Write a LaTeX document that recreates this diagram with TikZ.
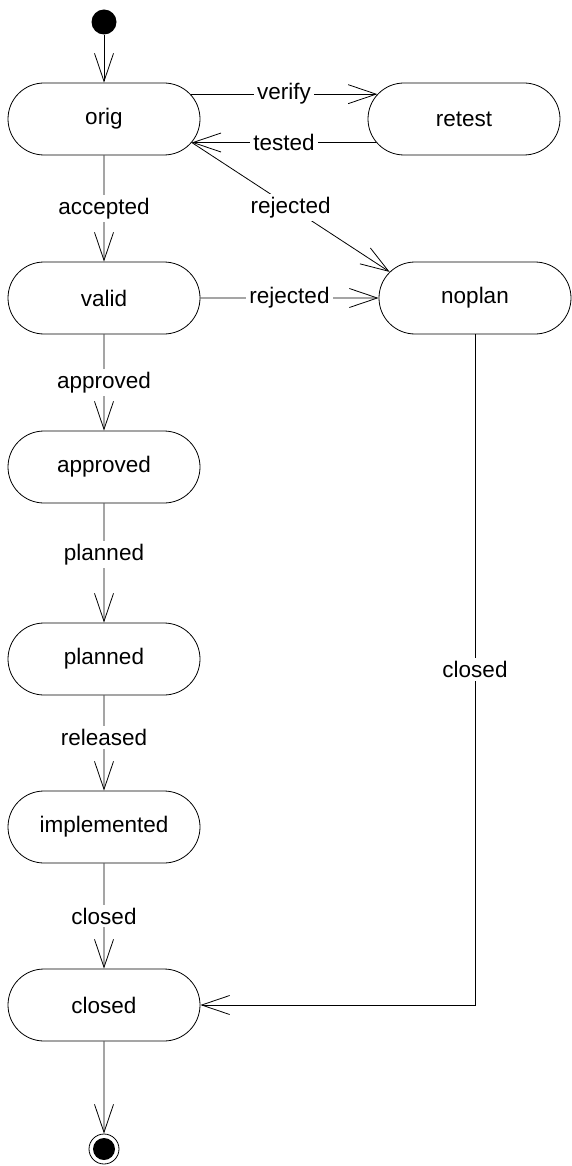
\documentclass[tikz,border=0pt]{standalone}
\usepackage{fontspec}
\setmainfont{Liberation Sans}
\usetikzlibrary{shapes.misc,arrows.meta}
\begin{document}
\begin{tikzpicture}[x=1pt,y=-1pt,
  txt/.style={font=\fontsize{22.5}{27}\selectfont},
  state/.style={rounded rectangle, draw, line width=0.8pt, minimum width=192pt,
    minimum height=72pt, inner sep=0pt, txt},
  trans/.style={line width=0.8pt,
    -{Straight Barb[length=28pt,width=19pt,line width=0.8pt]}},
  lbl/.style={fill=white, inner sep=3pt, txt},
]
\useasboundingbox (0,0) rectangle (571,1166);

% initial and final pseudo-states
\node[circle, fill=black, minimum size=25pt, inner sep=0pt] (start) at (104,22) {};
\node[circle, draw, line width=0.8pt, minimum size=30pt, inner sep=0pt,
  path picture={\fill[black] (path picture bounding box.center) circle (11pt);}]
  (final) at (104,1149) {};

% states
\node[state] (orig)        at (104,119)  {orig};
\node[state] (retest)      at (464,119)  {retest};
\node[state] (valid)       at (104,298)  {valid};
\node[state] (noplan)      at (475,298)  {noplan};
\node[state] (approved)    at (104,467)  {approved};
\node[state] (planned)     at (104,659)  {planned};
\node[state] (implemented) at (104,827)  {implemented};
\node[state] (closed)      at (104,1005) {closed};

% transitions
\draw[trans] (start) -- (orig);
\draw[trans] (orig.16) -- node[lbl] {verify} (retest.164);
\draw[trans] (retest.195) -- node[lbl] {tested} (orig.-15);
\draw[trans] (orig.-15) -- node[lbl] {rejected} (noplan.163);
\draw[trans] (orig) -- node[lbl] {accepted} (valid);
\draw[trans] (valid) -- node[lbl] {rejected} (noplan);
\draw[trans] (valid) -- node[lbl] {approved} (approved);
\draw[trans] (approved) -- node[lbl, pos=0.43] {planned} (planned);
\draw[trans] (planned) -- node[lbl, pos=0.44] {released} (implemented);
\draw[trans] (implemented) -- node[lbl] {closed} (closed);
\draw[trans] (noplan.south) |- node[lbl, pos=0.25] {closed} (closed.east);
\draw[trans] (closed) -- (final);
\end{tikzpicture}
\end{document}
